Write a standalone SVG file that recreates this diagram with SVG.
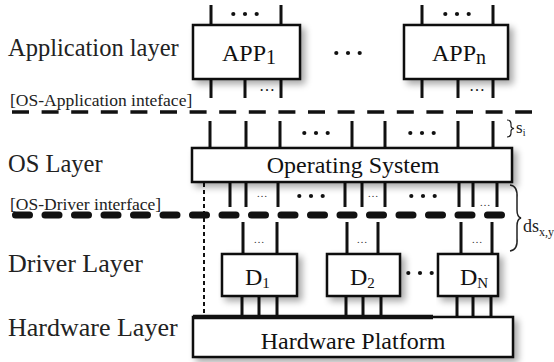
<svg xmlns="http://www.w3.org/2000/svg" width="554" height="362" viewBox="0 0 554 362">
  <defs>
    <filter id="shadow" x="-10%" y="-20%" width="130%" height="160%">
      <feGaussianBlur in="SourceAlpha" stdDeviation="3.5"/>
      <feOffset dx="4" dy="4" result="b"/>
      <feComponentTransfer><feFuncA type="linear" slope="0.35"/></feComponentTransfer>
      <feMerge><feMergeNode/><feMergeNode in="SourceGraphic"/></feMerge>
    </filter>
    <!-- three-dot ellipsis, centred on its origin -->
    <g id="ell">
      <circle cx="-11.7" cy="0" r="2.1"/>
      <circle cx="0" cy="0" r="2.1"/>
      <circle cx="11.7" cy="0" r="2.1"/>
    </g>
    <style>
      .box { fill: #fff; stroke: #111; stroke-width: 2.5; }
      .pin { stroke: #111; stroke-width: 3; fill: none; }
      .lbl { font-family: "Liberation Serif", "Times New Roman", serif; font-size: 24.5px; fill: #222; }
      .lbl2 { font-family: "Liberation Serif", "Times New Roman", serif; font-size: 26px; fill: #222; }
      .iface { font-family: "Liberation Serif", "Times New Roman", serif; font-size: 17.5px; fill: #222; }
      .name { font-family: "Liberation Serif", "Times New Roman", serif; font-size: 24px; fill: #111; }
      .sdots { font-family: "Liberation Serif", "Times New Roman", serif; font-size: 16px; fill: #111; text-anchor: middle; }
      .tdots { font-family: "Liberation Serif", "Times New Roman", serif; font-size: 11px; fill: #333; text-anchor: middle; }
      .ann { font-family: "Liberation Serif", "Times New Roman", serif; fill: #222; }
    </style>
  </defs>

  <!-- layer labels -->
  <g id="labels">
    <text class="lbl" x="8" y="56">Application layer</text>
    <text class="iface" x="10" y="106">[OS-Application inteface]</text>
    <text class="lbl" x="8" y="172">OS Layer</text>
    <text class="iface" x="10" y="210">[OS-Driver interface]</text>
    <text class="lbl2" x="8" y="272">Driver Layer</text>
    <text class="lbl2" x="8" y="336">Hardware Layer</text>
  </g>

  <!-- interfaces, pins and buses -->
  <g id="connectors">
    <line x1="12" y1="112" x2="532" y2="112" stroke="#111" stroke-width="3.3" stroke-dasharray="17 12.6"/>
    <line x1="15.5" y1="215" x2="502" y2="215" stroke="#111" stroke-width="7" stroke-linecap="round" stroke-dasharray="14 15.5"/>
    <line x1="204" y1="183" x2="204" y2="317" stroke="#111" stroke-width="2" stroke-dasharray="4 3"/>

    <!-- APP1 pins -->
    <path class="pin" d="M211 5V25M281 5V25M211 79V98M245 79V98M281 79V98"/>
    <!-- APPn pins -->
    <path class="pin" d="M422 5V25M493 5V25M422 79V98M458 79V98M493 79V98"/>
    <!-- OS pins -->
    <path class="pin" d="M210 121V148M246 121V148M280 121V148M352 121V148M385 121V148M458 121V148M493 121V148"/>
    <path class="pin" d="M230 182V207M246 182V207M278 182V207M345 182V207M362 182V207M385 182V207M459 182V207M473 182V207M497 182V207"/>
    <!-- driver pins -->
    <path class="pin" d="M243 222V254M277 222V254M347 222V254M378 222V254M461 222V254M492 222V254"/>
    <path class="pin" d="M242 296V317M259 296V317M277 296V317M346 296V317M363 296V317M381 296V317M457 296V317M473 296V317M491 296V317"/>

    <!-- ellipses -->
    <g fill="#111">
      <use href="#ell" x="245" y="14"/>
      <use href="#ell" x="457" y="14"/>
      <use href="#ell" x="348" y="53"/>
      <use href="#ell" x="316" y="133"/>
      <use href="#ell" x="422" y="133"/>
      <use href="#ell" x="311" y="196"/>
      <use href="#ell" x="423" y="196"/>
      <use href="#ell" x="420" y="273"/>
    </g>
    <text class="sdots" x="267" y="91">…</text>
    <text class="sdots" x="477" y="91">…</text>
    <text class="tdots" x="262" y="197">…</text>
    <text class="tdots" x="373" y="197">…</text>
    <text class="tdots" x="485" y="206">…</text>
    <text class="tdots" x="259" y="243">…</text>
    <text class="tdots" x="362" y="243">…</text>
    <text class="tdots" x="477" y="243">…</text>

    <!-- spacing annotations -->
    <path d="M507 120 Q511 120 511 124 L511 126 Q511 128 514 128.5 Q511 129 511 131 L511 133 Q511 137 507 137" fill="none" stroke="#222" stroke-width="1.2"/>
    <text class="ann" x="516" y="133" font-size="17">s<tspan font-size="10" dy="3">i</tspan></text>
    <path d="M510 185 Q518 186 517 198 L517 210 Q517 217 521 218 Q517 219 517 226 L517 238 Q518 250 510 251" fill="none" stroke="#222" stroke-width="1.5"/>
    <text class="ann" x="523" y="232" font-size="18">ds<tspan font-size="12" dy="4">x,y</tspan></text>
  </g>

  <g id="app1">
    <rect class="box" x="193" y="25" width="107" height="54" filter="url(#shadow)"/>
    <text class="name" x="222" y="61">APP<tspan font-size="20" dy="3">1</tspan></text>
  </g>

  <g id="appn">
    <rect class="box" x="404" y="25" width="104" height="54" filter="url(#shadow)"/>
    <text class="name" x="432" y="61">APP<tspan font-size="20" dy="3">n</tspan></text>
  </g>

  <g id="os">
    <rect class="box" x="192" y="148" width="320" height="34" filter="url(#shadow)"/>
    <text class="name" x="353" y="173" text-anchor="middle">Operating System</text>
  </g>

  <g id="d1">
    <rect class="box" x="222" y="254" width="75" height="42" filter="url(#shadow)"/>
    <text class="name" x="245" y="285">D<tspan font-size="15" dy="3">1</tspan></text>
  </g>

  <g id="d2">
    <rect class="box" x="327" y="254" width="73" height="42" filter="url(#shadow)"/>
    <text class="name" x="350" y="285">D<tspan font-size="15" dy="3">2</tspan></text>
  </g>

  <g id="dn">
    <rect class="box" x="438" y="254" width="60" height="42" filter="url(#shadow)"/>
    <text class="name" x="460" y="285">D<tspan font-size="15" dy="3">N</tspan></text>
  </g>

  <g id="hardware">
    <rect class="box" x="193" y="317" width="320" height="40" filter="url(#shadow)"/>
    <line x1="193" y1="317" x2="433" y2="317" stroke="#111" stroke-width="4.5"/>
    <text class="name" x="353" y="349" text-anchor="middle">Hardware Platform</text>
  </g>
</svg>
